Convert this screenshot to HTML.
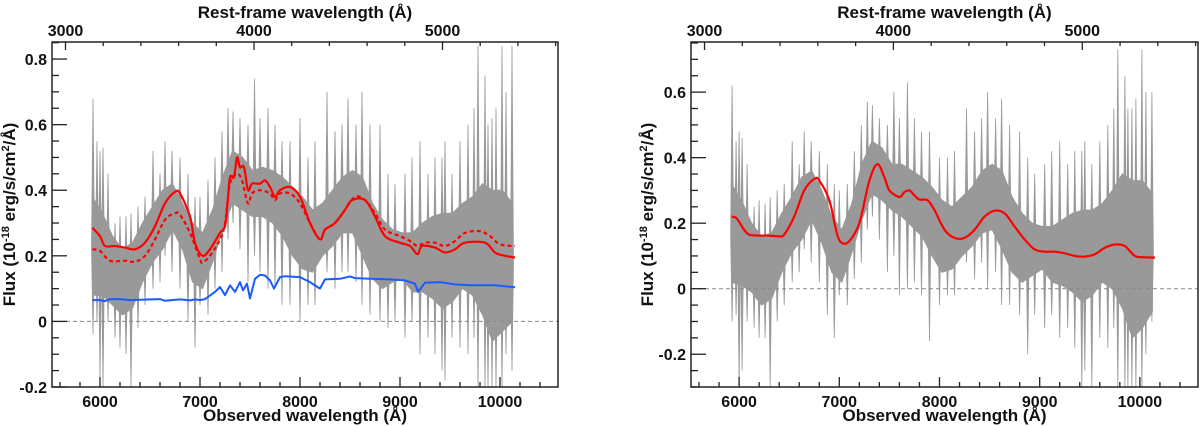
<!DOCTYPE html>
<html><head><meta charset="utf-8"><style>
html,body{margin:0;padding:0;background:#fff;}
svg{display:block;font-family:"Liberation Sans",Arial,sans-serif;font-weight:bold;}
</style></head><body>
<svg id="chart" width="1200" height="426" viewBox="0 0 1200 426" xmlns="http://www.w3.org/2000/svg"></svg>
<script>
// ---------- shared ----------
const obsTicks=[6000,7000,8000,9000,10000];
const restTicks=[3000,4000,5000];
const redshift=0.885;
const leftYTicks=[-0.2,0,0.2,0.4,0.6,0.8];
const rightYTicks=[-0.2,0,0.2,0.4,0.6];
const bandWl=[5925,6025,6125,6225,6325,6425,6525,6625,6725,6825,6925,7025,7125,7225,7325,7425,7525,7625,7725,7825,7925,8025,8125,8225,8325,8425,8525,8625,8725,8825,8925,9025,9125,9225,9325,9425,9525,9625,9725,9825,9925,10025,10125];
const spikeWl=[5930,5970,6000,6030,6080,6150,6200,6260,6310,6380,6450,6530,6600,6650,6720,6800,6880,6950,7000,7080,7150,7220,7280,7330,7400,7480,7545,7600,7680,7750,7820,7900,8000,8080,8150,8270,8350,8420,8480,8560,8620,8700,8800,8880,8950,9050,9120,9200,9280,9350,9420,9450,9520,9600,9680,9740,9780,9850,9880,9920,9960,10020,10060,10120];
// ---------- left panel data ----------
const leftHi=[0.38,0.33,0.26,0.22,0.24,0.30,0.35,0.40,0.42,0.36,0.30,0.27,0.34,0.44,0.52,0.50,0.46,0.47,0.46,0.44,0.41,0.38,0.34,0.36,0.40,0.44,0.46,0.44,0.36,0.31,0.28,0.27,0.27,0.30,0.32,0.33,0.33,0.36,0.38,0.42,0.40,0.40,0.36];
const leftLo=[0.08,0.08,0.05,0.02,0.04,0.12,0.18,0.22,0.28,0.22,0.12,0.10,0.18,0.28,0.36,0.34,0.32,0.32,0.30,0.26,0.20,0.16,0.15,0.20,0.23,0.27,0.27,0.20,0.13,0.10,0.12,0.13,0.09,0.09,0.07,0.04,0.06,0.10,0.08,0.02,-0.06,-0.03,0.0];
const leftSpikeTop=[0.68,0.55,0.52,0.53,0.45,0.30,0.32,0.32,0.33,0.35,0.38,0.52,0.45,0.55,0.52,0.50,0.45,0.38,0.38,0.43,0.50,0.58,0.65,0.64,0.62,0.60,0.74,0.62,0.65,0.60,0.55,0.55,0.62,0.50,0.55,0.70,0.58,0.60,0.68,0.60,0.70,0.60,0.60,0.45,0.42,0.45,0.50,0.55,0.45,0.50,0.50,0.55,0.45,0.55,0.60,0.65,0.84,0.75,0.60,0.62,0.65,0.84,0.70,0.84];
const leftSpikeBot=[-0.04,0.0,-0.18,-0.20,0.0,-0.05,-0.08,-0.10,-0.20,-0.02,0.05,0.10,0.12,0.20,0.15,0.10,0.0,-0.08,0.05,0.02,0.10,0.15,0.25,0.30,0.22,0.12,0.20,0.15,0.10,0.10,0.05,0.05,0.0,0.05,0.05,0.15,0.10,0.15,0.15,0.12,0.05,0.02,0.0,-0.02,0.0,-0.05,0.0,-0.10,-0.05,-0.10,-0.15,-0.18,-0.05,-0.08,-0.10,-0.05,-0.20,-0.20,-0.20,-0.20,-0.20,-0.20,-0.10,-0.15];
const leftFitWl=[5925,6000,6050,6150,6250,6350,6450,6550,6650,6750,6800,6900,6950,7025,7100,7200,7250,7275,7300,7340,7370,7400,7440,7480,7520,7600,7650,7700,7750,7800,7900,8000,8100,8200,8250,8350,8450,8520,8650,8750,8850,9000,9100,9175,9220,9350,9450,9550,9650,9850,9950,10050,10150];
const leftFit=[0.285,0.26,0.23,0.23,0.225,0.22,0.24,0.29,0.36,0.395,0.39,0.32,0.24,0.20,0.22,0.27,0.29,0.36,0.44,0.44,0.50,0.47,0.47,0.40,0.42,0.42,0.43,0.41,0.38,0.40,0.41,0.38,0.30,0.25,0.28,0.30,0.34,0.37,0.37,0.32,0.26,0.24,0.23,0.205,0.23,0.225,0.21,0.22,0.24,0.24,0.21,0.20,0.195];
const leftAltWl=[5925,6000,6100,6250,6350,6450,6550,6650,6750,6800,6900,7000,7025,7100,7200,7250,7300,7370,7420,7480,7520,7600,7700,7750,7800,7900,8000,8100,8200,8250,8350,8450,8550,8650,8750,8850,9000,9100,9175,9250,9350,9450,9550,9650,9800,9900,10000,10150];
const leftAlt=[0.22,0.215,0.185,0.185,0.182,0.20,0.25,0.31,0.33,0.325,0.27,0.19,0.18,0.20,0.25,0.30,0.42,0.45,0.43,0.36,0.39,0.40,0.39,0.37,0.39,0.39,0.36,0.30,0.25,0.28,0.30,0.34,0.38,0.37,0.33,0.28,0.26,0.245,0.23,0.24,0.24,0.23,0.245,0.27,0.275,0.26,0.235,0.23];
const leftBlueWl=[5925,6000,6050,6100,6200,6300,6400,6600,6650,6800,6900,6950,7000,7050,7150,7200,7250,7300,7350,7400,7430,7470,7500,7550,7600,7650,7700,7740,7800,7850,8000,8100,8200,8250,8400,8500,8550,8700,8900,9050,9150,9180,9250,9400,9550,9700,9850,9950,10050,10150];
const leftBlue=[0.065,0.065,0.062,0.068,0.068,0.065,0.066,0.068,0.063,0.067,0.064,0.067,0.065,0.068,0.09,0.105,0.08,0.11,0.09,0.12,0.095,0.115,0.07,0.13,0.142,0.14,0.125,0.10,0.135,0.138,0.135,0.12,0.10,0.128,0.13,0.137,0.132,0.13,0.128,0.125,0.115,0.09,0.118,0.12,0.113,0.11,0.11,0.11,0.107,0.104];
// ---------- right panel data ----------
const rightHi=[0.32,0.27,0.20,0.16,0.17,0.23,0.28,0.34,0.36,0.30,0.22,0.18,0.26,0.38,0.45,0.43,0.38,0.38,0.36,0.34,0.31,0.27,0.25,0.28,0.31,0.36,0.38,0.36,0.28,0.23,0.20,0.19,0.19,0.21,0.23,0.24,0.24,0.26,0.30,0.35,0.33,0.33,0.29];
const rightLo=[0.02,0.01,-0.01,-0.05,-0.03,0.05,0.11,0.15,0.21,0.14,0.05,0.02,0.11,0.21,0.29,0.27,0.24,0.22,0.19,0.16,0.10,0.05,0.06,0.10,0.13,0.17,0.18,0.12,0.05,0.02,0.04,0.06,0.02,0.01,-0.01,-0.04,-0.02,0.02,0.0,-0.06,-0.15,-0.12,-0.07];
const rightSpikeTop=[0.62,0.45,0.48,0.46,0.38,0.25,0.27,0.26,0.28,0.30,0.32,0.45,0.38,0.48,0.45,0.42,0.38,0.32,0.30,0.32,0.42,0.50,0.57,0.56,0.52,0.50,0.60,0.52,0.63,0.52,0.48,0.48,0.40,0.40,0.42,0.55,0.48,0.52,0.60,0.52,0.58,0.50,0.48,0.40,0.35,0.38,0.42,0.45,0.38,0.42,0.42,0.45,0.38,0.45,0.50,0.55,0.73,0.65,0.55,0.55,0.58,0.73,0.60,0.60];
const rightSpikeBot=[-0.10,-0.08,-0.30,-0.25,-0.10,-0.12,-0.15,-0.15,-0.30,-0.10,-0.05,0.02,0.05,0.12,0.08,0.02,-0.08,-0.15,-0.02,-0.05,0.03,0.08,0.18,0.22,0.15,0.05,0.10,-0.02,0.0,0.02,-0.02,-0.16,-0.05,-0.02,-0.02,0.08,0.03,0.08,0.0,0.05,-0.05,-0.05,-0.08,-0.20,-0.08,-0.12,-0.08,-0.15,-0.12,-0.18,-0.30,-0.25,-0.30,-0.15,-0.18,-0.12,-0.30,-0.30,-0.30,-0.30,-0.30,-0.30,-0.20,-0.10];
const rightFitWl=[5925,5975,6050,6100,6200,6300,6400,6450,6550,6650,6750,6800,6900,6975,7025,7100,7200,7300,7380,7450,7500,7600,7650,7700,7750,7800,7880,7950,8050,8150,8250,8350,8450,8550,8650,8750,8850,8950,9050,9150,9250,9350,9450,9550,9650,9750,9850,9950,10050,10150];
const rightFit=[0.22,0.215,0.18,0.165,0.162,0.162,0.16,0.165,0.22,0.30,0.335,0.33,0.27,0.17,0.14,0.145,0.20,0.33,0.38,0.34,0.30,0.28,0.295,0.30,0.285,0.272,0.27,0.24,0.18,0.155,0.155,0.18,0.22,0.238,0.23,0.19,0.15,0.12,0.113,0.113,0.108,0.10,0.098,0.105,0.125,0.135,0.13,0.10,0.096,0.095];

const NS="http://www.w3.org/2000/svg";
const svg=document.getElementById('chart');
function mk(tag,attrs,parent){const e=document.createElementNS(NS,tag);for(const k in attrs)e.setAttribute(k,attrs[k]);(parent||svg).appendChild(e);return e;}
function smoothPath(P){
  let d='M'+P[0][0].toFixed(1)+','+P[0][1].toFixed(1);
  for(let i=0;i<P.length-1;i++){
    const p0=P[Math.max(0,i-1)],p1=P[i],p2=P[i+1],p3=P[Math.min(P.length-1,i+2)];
    const c1x=p1[0]+(p2[0]-p0[0])/6,c1y=p1[1]+(p2[1]-p0[1])/6;
    const c2x=p2[0]-(p3[0]-p1[0])/6,c2y=p2[1]-(p3[1]-p1[1])/6;
    d+=' C'+c1x.toFixed(1)+','+c1y.toFixed(1)+' '+c2x.toFixed(1)+','+c2y.toFixed(1)+' '+p2[0].toFixed(1)+','+p2[1].toFixed(1);
  }
  return d;
}

function drawPanel(p){
  const g=mk('g',{});
  
  
  const X=w=>p.x0+(w-5520)*(p.x1-p.x0)/(10580-5520);
  const Y=v=>p.y1-(v-p.ymin)*(p.y1-p.y0)/(p.ymax-p.ymin);
  const bandAt=(arr,w)=>{let i=Math.floor((w-5925)/100);i=Math.max(0,Math.min(bandWl.length-2,i));const t=Math.max(0,Math.min(1,(w-bandWl[i])/100));return arr[i]*(1-t)+arr[i+1]*t;};
  const cid='clip-'+p.name;
  const cp=mk('clipPath',{id:cid},g);
  mk('rect',{x:p.x0,y:p.y0,width:p.x1-p.x0,height:p.y1-p.y0},cp);
  const data=mk('g',{'clip-path':'url(#'+cid+')'},g);
  let pts=[];
  for(let i=0;i<bandWl.length;i++)pts.push(X(bandWl[i]).toFixed(1)+','+Y(p.hi[i]).toFixed(1));
  for(let i=bandWl.length-1;i>=0;i--)pts.push(X(bandWl[i]).toFixed(1)+','+Y(p.lo[i]).toFixed(1));
  const band=mk('polygon',{points:pts.join(' '),fill:'#999999',stroke:'#999999','stroke-width':'1'},data);
  
  
  for(let i=0;i<spikeWl.length;i++){
    const w=spikeWl[i];
    const mid=(bandAt(p.hi,w)+bandAt(p.lo,w))/2;
    const s=mk('polygon',{points:[(X(w)-1.5).toFixed(1)+','+Y(mid).toFixed(1),X(w).toFixed(1)+','+Y(p.st[i]).toFixed(1),(X(w)+1.5).toFixed(1)+','+Y(mid).toFixed(1),X(w).toFixed(1)+','+Y(p.sb[i]).toFixed(1)].join(' '),fill:'#999999',stroke:'#999999','stroke-width':'0.8'},data);
    
    
  }
  const z=mk('line',{x1:p.x0,x2:p.x1,y1:Y(0),y2:Y(0),stroke:'#888','stroke-width':'1','stroke-dasharray':'4,3'},data);
  
  
  function line(wl,v,color,dash,name,w,smooth){
    const P=wl.map((x,i)=>[X(x),Y(v[i])]);
    const l=mk('path',{d:smooth?smoothPath(P):'M'+P.map(q=>q[0].toFixed(1)+','+q[1].toFixed(1)).join(' L'),fill:'none',stroke:color,'stroke-width':w,'stroke-linejoin':'round'},data);
    if(dash)l.setAttribute('stroke-dasharray',dash);
    
    
  }
  if(p.blueWl)line(p.blueWl,p.blue,'#1a5cff',null,'stellar-component-line',2,false);
  if(p.altWl)line(p.altWl,p.alt,'#ff0000','4,3','alt-model-dotted-line',2.2,true);
  line(p.fitWl,p.fit,'#ff0000',null,'best-fit-model-line',2.2,true);
  const fr=mk('rect',{x:p.x0,y:p.y0,width:p.x1-p.x0,height:p.y1-p.y0,fill:'none',stroke:'#222','stroke-width':'1.5'},g);
  
  
  const tk=mk('g',{stroke:'#222','stroke-width':'1.3'},g);
  for(let w=5600;w<=10580;w+=200){const maj=w%1000===0;mk('line',{x1:X(w),x2:X(w),y1:p.y1,y2:p.y1-(maj?10:5)},tk);}
  for(const w of obsTicks){const t=mk('text',{x:X(w),y:p.y1+20,'text-anchor':'middle','font-size':'16',fill:'#111'},g);t.textContent=w;
    
    }
  for(let r=3000;r<=5600;r+=200){const w=r*(1+redshift);if(w<5520||w>10580)continue;const maj=r%1000===0;mk('line',{x1:X(w),x2:X(w),y1:p.y0,y2:p.y0+(maj?8:4)},tk);}
  for(const r of restTicks){const t=mk('text',{x:X(r*(1+redshift)),y:p.y0-6,'text-anchor':'middle','font-size':'16',fill:'#111'},g);t.textContent=r;
    
    }
  for(let k=Math.ceil(p.ymin/0.05-1e-6);k*0.05<=p.ymax+1e-9;k++){const v=k*0.05;const maj=Math.abs(Math.round(v/0.2)*0.2-v)<1e-6;mk('line',{x1:p.x0,x2:p.x0+(maj?15:7),y1:Y(v),y2:Y(v)},tk);}
  for(const v of p.yt){const t=mk('text',{x:p.x0-5,y:Y(v)+6,'text-anchor':'end','font-size':'16',fill:'#111'},g);t.textContent=(Math.abs(v)<1e-9?'0':v.toFixed(1));
    
    }
  const xt=mk('text',{x:(p.x0+p.x1)/2,y:421,'text-anchor':'middle','font-size':'17',fill:'#111'},g);xt.textContent='Observed wavelength (Å)';
  
  
  const tt=mk('text',{x:(p.x0+p.x1)/2,y:18,'text-anchor':'middle','font-size':'17',fill:'#111'},g);tt.textContent='Rest-frame wavelength (Å)';
  
  
  const cy=(p.y0+p.y1)/2;
  const yt=mk('text',{x:p.ylx,y:cy,'text-anchor':'middle','font-size':'17',fill:'#111',transform:'rotate(-90 '+p.ylx+' '+cy+')'},g);
  yt.innerHTML='Flux (10<tspan dy="-6" font-size="11">-18</tspan><tspan dy="6"> erg/s/cm</tspan><tspan dy="-6" font-size="11">2</tspan><tspan dy="6">/Å)</tspan>';
  
  
}

drawPanel({name:'left-panel',x0:52,x1:558,y0:42,y1:387,ymin:-0.2,ymax:0.852,yt:leftYTicks,hi:leftHi,lo:leftLo,st:leftSpikeTop,sb:leftSpikeBot,fitWl:leftFitWl,fit:leftFit,altWl:leftAltWl,alt:leftAlt,blueWl:leftBlueWl,blue:leftBlue,ylx:15});
drawPanel({name:'right-panel',x0:691,x1:1198,y0:42,y1:387,ymin:-0.3,ymax:0.753,yt:rightYTicks,hi:rightHi,lo:rightLo,st:rightSpikeTop,sb:rightSpikeBot,fitWl:rightFitWl,fit:rightFit,ylx:653});
</script>
</body></html>
